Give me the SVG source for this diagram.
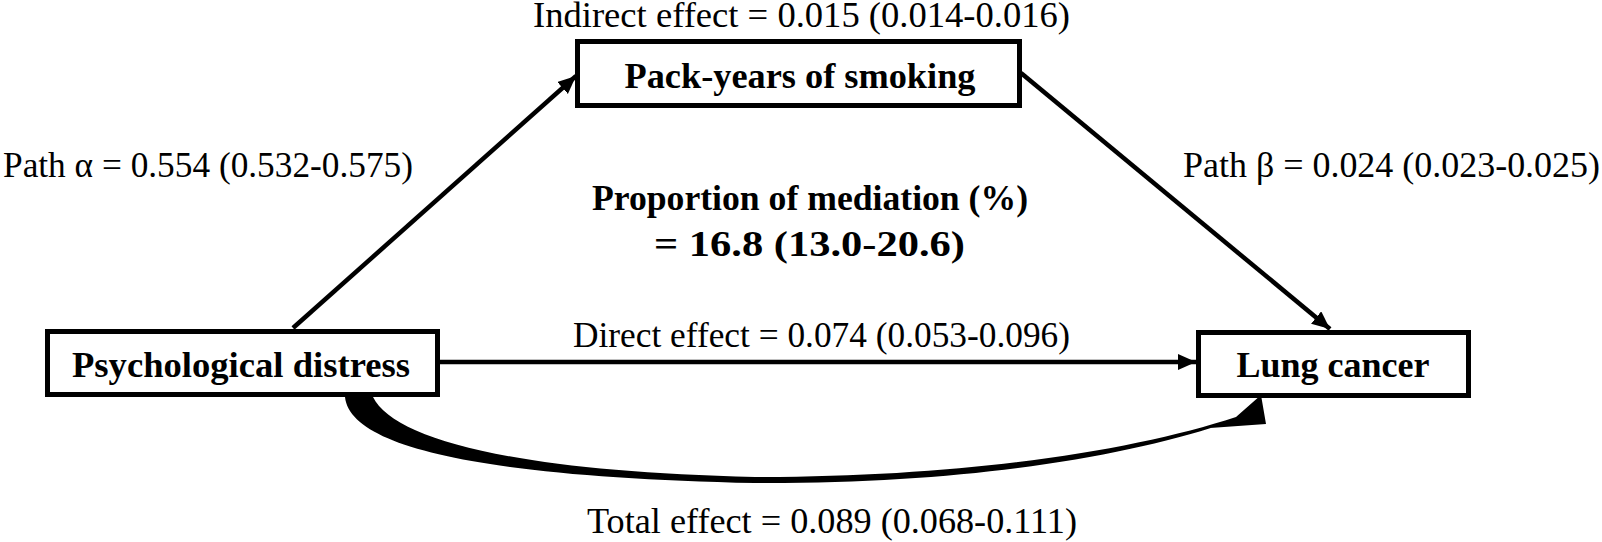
<svg xmlns="http://www.w3.org/2000/svg" width="1602" height="542" viewBox="0 0 1602 542">
<style>
.box{fill:#fff;stroke:#000;stroke-width:5}
.bt{font-family:"Liberation Serif","Times New Roman",serif;font-weight:bold;font-size:36px;fill:#000}
.rt{font-family:"Liberation Serif","Times New Roman",serif;font-size:36px;fill:#000}
.ln{stroke:#000;stroke-width:4.5;fill:none}
</style>
<defs>
<marker id="ah" markerUnits="userSpaceOnUse" markerWidth="20" markerHeight="18" refX="18" refY="8" orient="auto">
<path d="M0,0 L18,8 L0,16 Z" fill="#000"/>
</marker>
</defs>
<rect width="1602" height="542" fill="#fff"/>
<g id="connectors">
<line class="ln" x1="293" y1="328" x2="576" y2="76" marker-end="url(#ah)"/>
<line class="ln" x1="1021" y1="73" x2="1330" y2="329" marker-end="url(#ah)"/>
<line class="ln" x1="440" y1="362" x2="1196" y2="362" marker-end="url(#ah)"/>
<path d="M345 397 C350 447 480 477 755 483 C960 484 1120 458 1220 425 L1210 428 L1266 424 L1261 395 L1236 417 C1130 452 960 477 755 477 C520 472 394 440 373 397 Z" fill="#000"/>
</g>
<g id="node-pack">
<rect class="box" x="577.5" y="41.5" width="442" height="64"/>
<text class="bt" x="800" y="88" text-anchor="middle" textLength="351" lengthAdjust="spacingAndGlyphs">Pack-years of smoking</text>
</g>
<g id="node-psych">
<rect class="box" x="47.5" y="331.5" width="390" height="63"/>
<text class="bt" x="241" y="377" text-anchor="middle" textLength="338" lengthAdjust="spacingAndGlyphs">Psychological distress</text>
</g>
<g id="node-lung">
<rect class="box" x="1198.5" y="332.5" width="270" height="63"/>
<text class="bt" x="1333" y="377" text-anchor="middle" textLength="193" lengthAdjust="spacingAndGlyphs">Lung cancer</text>
</g>
<g id="labels">
<text class="rt" x="533" y="27" textLength="537" lengthAdjust="spacingAndGlyphs">Indirect effect = 0.015 (0.014-0.016)</text>
<text class="rt" x="3" y="177" textLength="410" lengthAdjust="spacingAndGlyphs">Path α = 0.554 (0.532-0.575)</text>
<text class="rt" x="1183" y="177" textLength="417" lengthAdjust="spacingAndGlyphs">Path β = 0.024 (0.023-0.025)</text>
<text class="bt" x="592" y="210" textLength="436" lengthAdjust="spacingAndGlyphs">Proportion of mediation (%)</text>
<text class="bt" x="654" y="256" textLength="311" lengthAdjust="spacingAndGlyphs">= 16.8 (13.0-20.6)</text>
<text class="rt" x="573" y="347" textLength="497" lengthAdjust="spacingAndGlyphs">Direct effect = 0.074 (0.053-0.096)</text>
<text class="rt" x="587" y="533" textLength="490" lengthAdjust="spacingAndGlyphs">Total effect = 0.089 (0.068-0.111)</text>
</g>
</svg>
